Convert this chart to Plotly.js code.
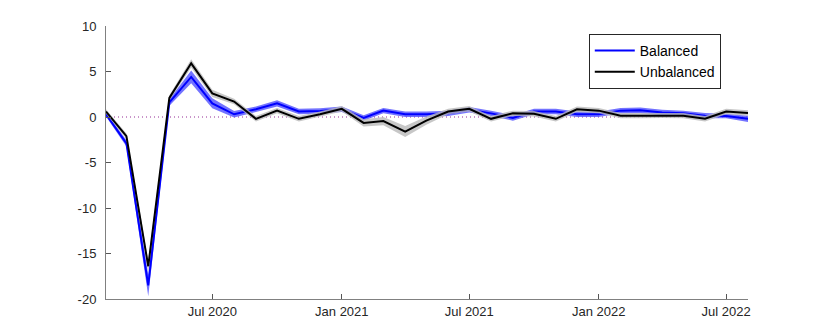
<!DOCTYPE html>
<html>
<head>
<meta charset="utf-8">
<script src="https://cdn.plot.ly/plotly-3.0.1.min.js"></script>
<style>body{margin:0;background:#fff}</style>
</head>
<body>
<div id="chart" style="width:824px;height:336px"></div>
<script>
var months = ['2020-02-01','2020-03-01','2020-04-01','2020-05-01','2020-06-01','2020-07-01','2020-08-01','2020-09-01','2020-10-01','2020-11-01','2020-12-01',
  '2021-01-01','2021-02-01','2021-03-01','2021-04-01','2021-05-01','2021-06-01','2021-07-01','2021-08-01','2021-09-01','2021-10-01','2021-11-01','2021-12-01',
  '2022-01-01','2022-02-01','2022-03-01','2022-04-01','2022-05-01','2022-06-01','2022-07-01','2022-08-01'];

var balanced = [0.3, -2.9, -18.5, 1.6, 4.4, 1.5, 0.3, 0.85, 1.5, 0.6, 0.65,
  0.85, -0.1, 0.7, 0.3, 0.3, 0.4, 0.8, 0.4, -0.1, 0.6, 0.6, 0.3,
  0.3, 0.7, 0.75, 0.5, 0.4, 0.15, 0.1, -0.2];
var balancedErr = [0.25, 0.35, 1.2, 0.35, 0.7, 0.55, 0.35, 0.3, 0.35, 0.3, 0.3,
  0.3, 0.3, 0.3, 0.3, 0.3, 0.3, 0.3, 0.3, 0.3, 0.3, 0.3, 0.3,
  0.3, 0.3, 0.3, 0.3, 0.3, 0.3, 0.25, 0.35];

var unbalanced = [0.6, -2.1, -16.4, 2.1, 5.9, 2.6, 1.7, -0.2, 0.7, -0.2, 0.3,
  0.9, -0.65, -0.45, -1.6, -0.4, 0.6, 0.9, -0.2, 0.4, 0.35, -0.2, 0.85,
  0.7, 0.15, 0.15, 0.2, 0.15, -0.2, 0.6, 0.45];
var unbalancedErr = [0.25, 0.3, 0.6, 0.3, 0.45, 0.4, 0.3, 0.3, 0.3, 0.3, 0.3,
  0.3, 0.4, 0.45, 0.6, 0.45, 0.3, 0.3, 0.3, 0.3, 0.3, 0.3, 0.3,
  0.3, 0.3, 0.3, 0.3, 0.3, 0.3, 0.3, 0.3];

var xTickVals = ['2020-07-01','2021-01-01','2021-07-01','2022-01-01','2022-07-01'];
var xTickText = ['Jul 2020','Jan 2021','Jul 2021','Jan 2022','Jul 2022'];
var yTickVals = [-20, -15, -10, -5, 0, 5, 10];
var yTickText = ['-20','-15','-10','-5','0','5','10'];

function band(y, err, color) {
  var xs = months.concat(months.slice().reverse());
  var hi = y.map(function(v, i) { return v + err[i]; });
  var lo = y.map(function(v, i) { return v - err[i]; }).reverse();
  return {
    x: xs, y: hi.concat(lo), type: 'scatter', mode: 'lines',
    fill: 'toself', fillcolor: color, line: {width: 0},
    showlegend: false, hoverinfo: 'skip'
  };
}

var data = [
  band(balanced, balancedErr, 'rgba(80,80,255,0.8)'),
  {x: months, y: balanced, type: 'scatter', mode: 'lines', name: 'Balanced',
   line: {color: '#0000ff', width: 2}},
  band(unbalanced, unbalancedErr, 'rgba(185,185,185,0.8)'),
  {x: months, y: unbalanced, type: 'scatter', mode: 'lines', name: 'Unbalanced',
   line: {color: '#000000', width: 2}}
];

var layout = {
  width: 824,
  height: 336,
  margin: {l: 106, r: 76, t: 26, b: 37},
  paper_bgcolor: '#fff',
  plot_bgcolor: '#fff',
  font: {family: 'Liberation Sans, Arial, sans-serif', size: 13, color: '#262626'},
  xaxis: {
    type: 'date',
    range: ['2020-02-01', '2022-08-01'],
    tickvals: xTickVals,
    ticktext: xTickText,
    ticks: 'inside',
    ticklen: 5,
    tickcolor: '#555',
    showgrid: false,
    zeroline: false,
    showline: true,
    linecolor: '#808080',
    linewidth: 1,
    tickfont: {size: 13}
  },
  yaxis: {
    range: [-20, 10],
    tickvals: yTickVals,
    ticktext: yTickText,
    ticks: 'inside',
    ticklen: 5,
    tickcolor: '#555',
    showgrid: false,
    zeroline: false,
    showline: true,
    linecolor: '#808080',
    linewidth: 1,
    ticklabelstandoff: 6,
    tickfont: {size: 13}
  },
  shapes: [{
    type: 'line', xref: 'paper', yref: 'y',
    x0: 0, x1: 1, y0: 0, y1: 0,
    line: {color: '#932a93', width: 1, dash: '1px,3px'},
    layer: 'below'
  }],
  legend: {
    x: 0.752, y: 0.971, xanchor: 'left', yanchor: 'top',
    bordercolor: '#262626', borderwidth: 1, bgcolor: '#fff',
    font: {size: 14, color: '#000'},
    itemwidth: 40,
    tracegroupgap: 0
  },
  showlegend: true
};

Plotly.newPlot('chart', data, layout, {displayModeBar: false, staticPlot: true});
</script>
</body>
</html>
